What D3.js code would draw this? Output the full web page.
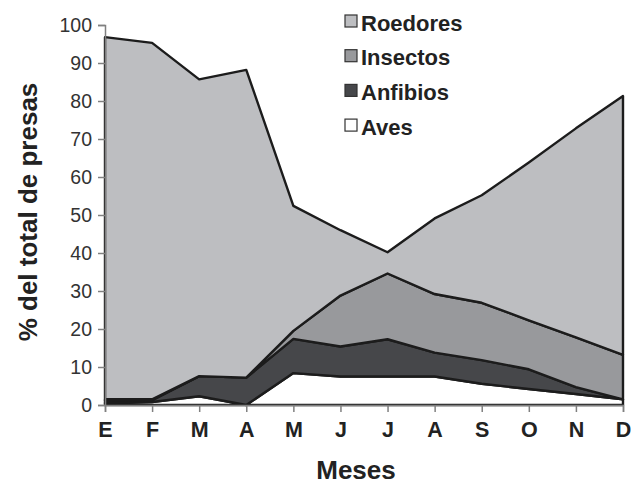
<!DOCTYPE html>
<html>
<head>
<meta charset="utf-8">
<script src="https://cdn.jsdelivr.net/npm/d3@7"></script>
<style>
  body { margin: 0; background: #fff; }
  svg { font-family: "Liberation Sans", Arial, sans-serif; }
</style>
</head>
<body>
<div id="chart"></div>
<script>
// data (% of prey per month)
var months = ['E', 'F', 'M', 'A', 'M', 'J', 'J', 'A', 'S', 'O', 'N', 'D'];
var aves      = [0.5, 0.8, 2.3, 0.0, 8.4, 7.5, 7.5, 7.5, 5.6, 4.2, 2.9, 1.5];
var anfibios  = [0.7, 0.5, 5.3, 7.2, 9.0, 7.9, 9.8, 6.3, 6.2, 5.2, 1.8, 0.0];
var insectos  = [0.3, 0.2, 0.0, 0.0, 2.1, 13.4, 17.3, 15.4, 15.1, 12.9, 13.1, 11.7];
var roedores  = [95.3, 93.8, 78.1, 81.0, 32.9, 17.2, 5.6, 19.9, 28.3, 41.5, 55.0, 68.1];
var yTicks = [0, 10, 20, 30, 40, 50, 60, 70, 80, 90, 100];

var keys = ['Aves', 'Anfibios', 'Insectos', 'Roedores'];
var colors = { Roedores: '#bdbec1', Insectos: '#98999c', Anfibios: '#46474a', Aves: '#ffffff' };
var legendOrder = ['Roedores', 'Insectos', 'Anfibios', 'Aves'];

var table = months.map(function(m, i) {
  return { i: i, Aves: aves[i], Anfibios: anfibios[i], Insectos: insectos[i], Roedores: roedores[i] };
});

var svg_width = 633, svg_height = 485;
var plot = { left: 105, right: 623, top: 25, bottom: 405 };

var svg = d3.select('#chart').append('svg')
  .attr('width', svg_width).attr('height', svg_height);

var x = d3.scalePoint().domain(d3.range(months.length)).range([plot.left, plot.right]);
var y = d3.scaleLinear().domain([0, 100]).range([plot.bottom, plot.top]);

var stacked = d3.stack().keys(keys)(table);

var area = d3.area()
  .x(function(d) { return x(d.data.i); })
  .y0(function(d) { return y(d[0]); })
  .y1(function(d) { return y(d[1]); });

svg.append('g').selectAll('path').data(stacked).enter().append('path')
  .attr('d', area)
  .attr('fill', function(d) { return colors[d.key]; })
  .attr('stroke', '#1c1c1c')
  .attr('stroke-width', 2.4)
  .attr('stroke-linejoin', 'round');

// axes
var yAxis = svg.append('g')
  .attr('transform', 'translate(' + plot.left + ',0)')
  .call(d3.axisLeft(y).tickValues(yTicks).tickSize(7).tickPadding(6));
var xAxis = svg.append('g')
  .attr('transform', 'translate(0,' + plot.bottom + ')')
  .call(d3.axisBottom(x).tickSize(7).tickPadding(10).tickFormat(function(i) { return months[i]; }));

[yAxis, xAxis].forEach(function(g) {
  g.select('.domain').attr('stroke', '#808080').attr('stroke-width', 1.5);
  g.selectAll('.tick line').attr('stroke', '#808080').attr('stroke-width', 1.5);
});
yAxis.selectAll('.tick text')
  .attr('font-size', 19.5).attr('fill', '#333').attr('font-family', '"Liberation Sans", Arial, sans-serif');
xAxis.selectAll('.tick text')
  .attr('font-size', 21.5).attr('font-weight', 'bold').attr('fill', '#222')
  .attr('font-family', '"Liberation Sans", Arial, sans-serif');

// titles
svg.append('text')
  .attr('transform', 'translate(37,212) rotate(-90)')
  .attr('text-anchor', 'middle')
  .attr('font-size', 26).attr('font-weight', 'bold').attr('fill', '#222')
  .text('% del total de presas');

svg.append('text')
  .attr('x', 356).attr('y', 479)
  .attr('text-anchor', 'middle')
  .attr('font-size', 26).attr('font-weight', 'bold').attr('fill', '#222')
  .text('Meses');

// legend
var legend = svg.selectAll('.legend').data(legendOrder).enter().append('g')
  .attr('class', 'legend')
  .attr('transform', function(d, i) { return 'translate(345,' + (15 + i * 34.7) + ')'; });

legend.append('rect')
  .attr('width', 12).attr('height', 12)
  .attr('fill', function(d) { return colors[d]; })
  .attr('stroke', '#333').attr('stroke-width', 1.2);

legend.append('text')
  .attr('x', 16).attr('y', 15.5)
  .attr('font-size', 22).attr('font-weight', 'bold').attr('fill', '#222')
  .text(function(d) { return d; });
</script>
</body>
</html>
